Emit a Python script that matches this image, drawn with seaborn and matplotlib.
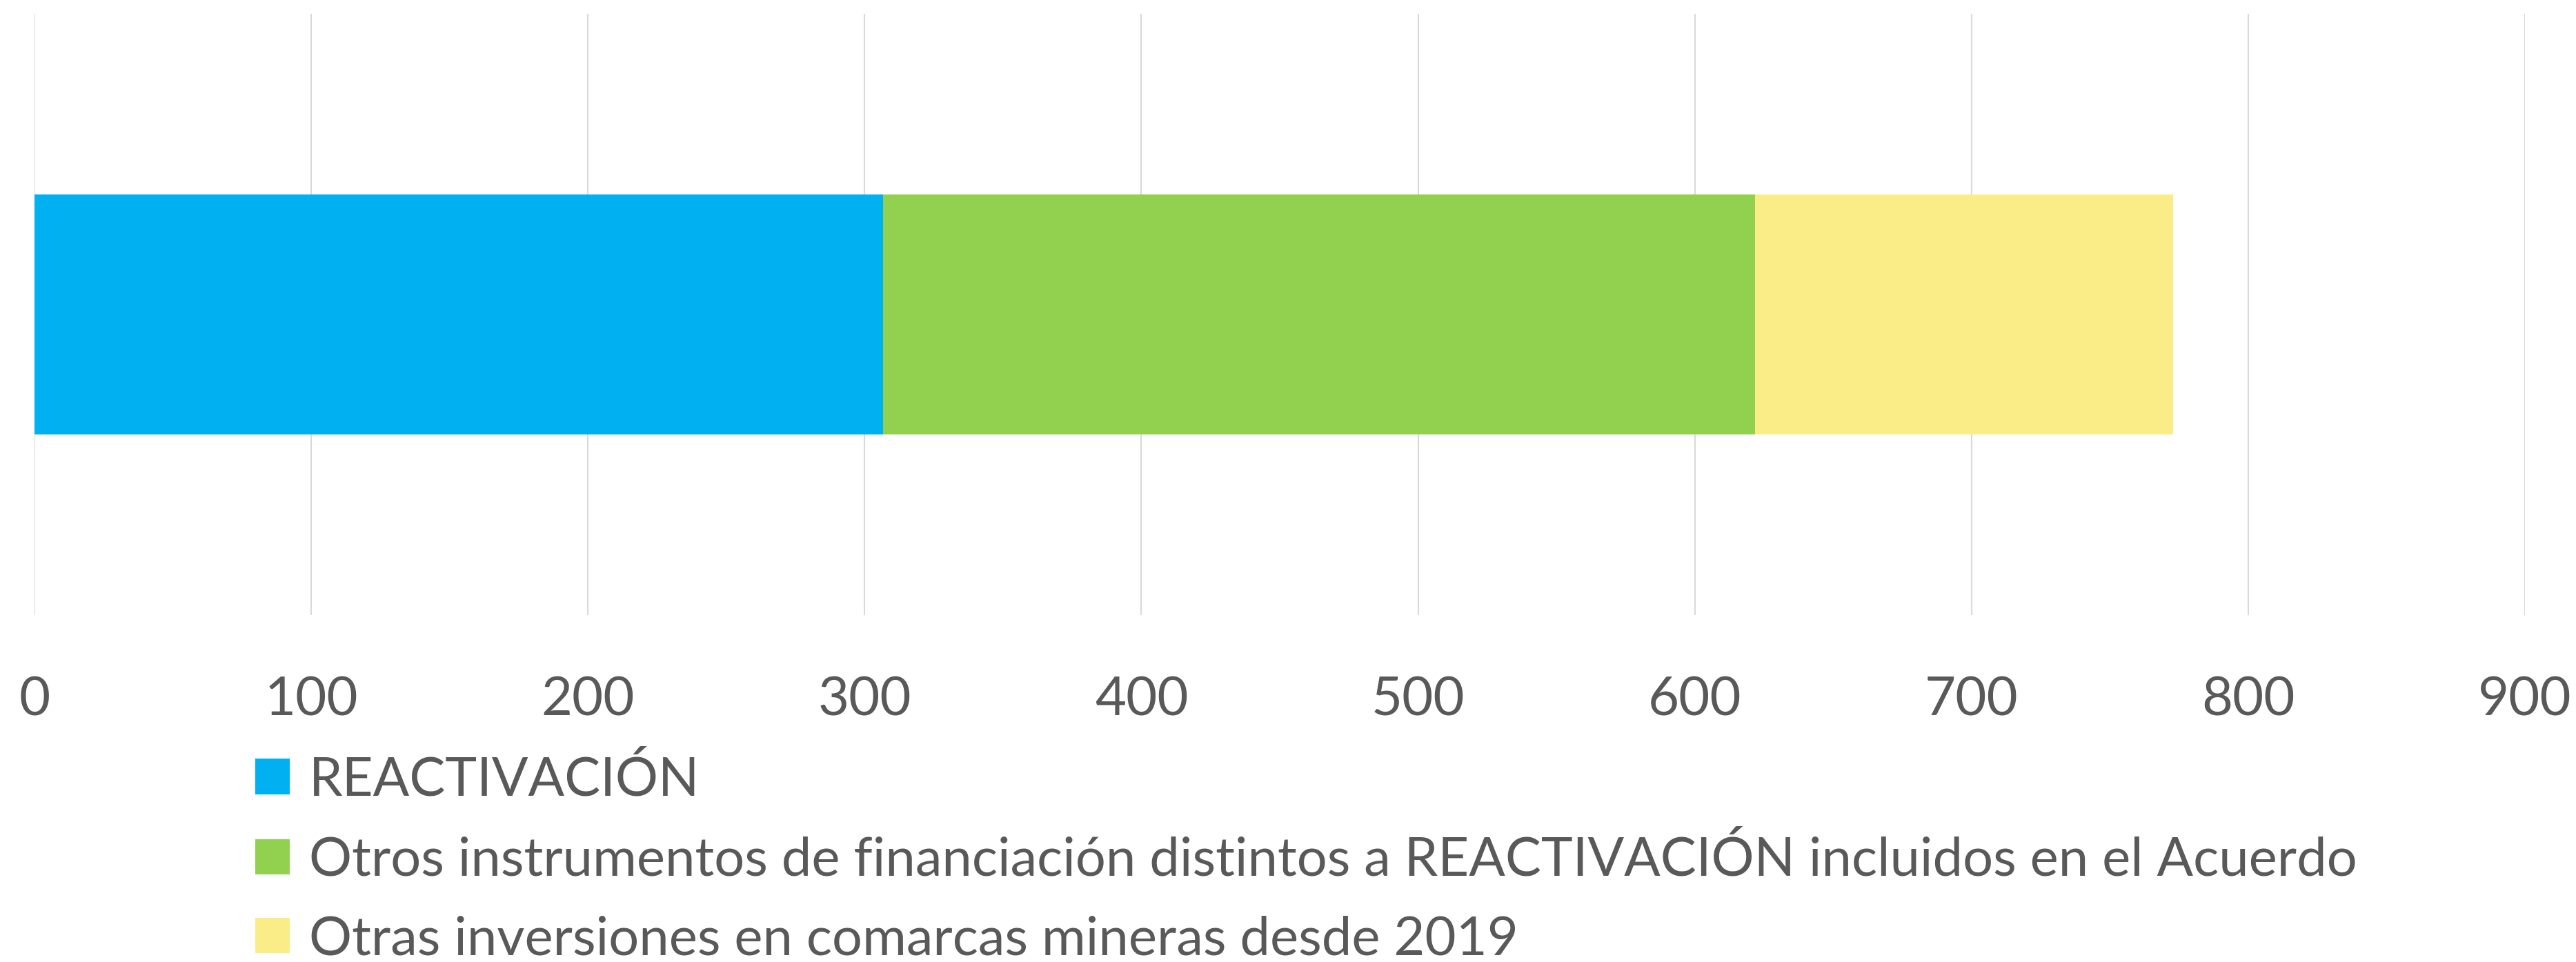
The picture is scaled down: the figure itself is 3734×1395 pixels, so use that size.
import numpy as np
import pandas as pd
import matplotlib
matplotlib.use("Agg")
import matplotlib.pyplot as plt
import seaborn as sns
from matplotlib.patches import Patch

# ---- data ----
series_names = [
    "REACTIVACIÓN",
    "Otros instrumentos de financiación distintos a REACTIVACIÓN incluidos en el Acuerdo",
    "Otras inversiones en comarcas mineras desde 2019",
]
series_values = [306.6, 315.2, 151.1]
series_colors = ["#00B0F0", "#92D050", "#FAEC86"]
category = [""]
x_ticks = [0, 100, 200, 300, 400, 500, 600, 700, 800, 900]

sns.set_theme(style="white")
plt.rcParams["font.family"] = ["Lato", "DejaVu Sans"]

W, H, DPI = 3734, 1395, 100
fig = plt.figure(figsize=(W / DPI, H / DPI), dpi=DPI)
ax = fig.add_axes([50 / W, 1 - 892 / H, (3660 - 50) / W, (892 - 20) / H])

cum = np.cumsum(series_values)
# draw cumulative totals from largest to smallest to get a stacked look
for i in reversed(range(len(series_values))):
    df = pd.DataFrame({"cat": category, "val": [cum[i]]})
    sns.barplot(data=df, x="val", y="cat", orient="h", color=series_colors[i],
                width=0.4, saturation=1, ax=ax, edgecolor="none", linewidth=0)

ax.set_xlim(0, 900)
ax.set_ylim(0.5, -0.5)
ax.set_xticks(x_ticks)
ax.set_xticklabels([str(t) for t in x_ticks])
ax.set_yticks([])
ax.set_xlabel("")
ax.set_ylabel("")
for s in ax.spines.values():
    s.set_visible(False)
ax.grid(axis="x", color="#D9D9D9", linewidth=1.5)
ax.set_axisbelow(True)
ax.tick_params(axis="x", length=0, pad=64, labelsize=56, labelcolor="#595959")

handles = [Patch(facecolor=c, edgecolor="none") for c in series_colors]
leg = fig.legend(handles, series_names, loc="upper left",
                 bbox_to_anchor=(370 / W, 1 - 1095 / H), frameon=False,
                 fontsize=56, labelcolor="#595959",
                 handlelength=0.64, handleheight=0.64, handletextpad=0.36,
                 labelspacing=0.56, borderaxespad=0, borderpad=0)

fig.savefig("out.png", dpi=DPI, facecolor="white")
